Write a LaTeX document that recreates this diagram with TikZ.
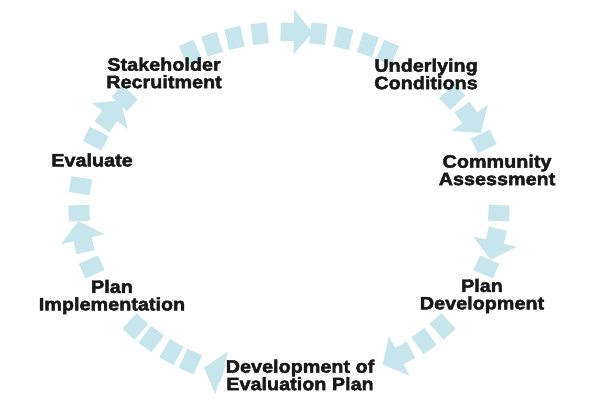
\documentclass[tikz,border=0pt]{standalone}
\usepackage{fontspec}
\newfontfamily\lblfont{Liberation Sans}[FakeStretch=1.1,FakeBold=2.5]
\usepackage{tikz}
\usetikzlibrary{shapes.arrows}
\usepackage{xcolor}
\definecolor{ringblue}{RGB}{198,229,236}
\definecolor{lblblack}{RGB}{25,25,25}

\begin{document}
\begin{tikzpicture}[x=1pt,y=1pt,
  dashbox/.style={rectangle, fill=ringblue, inner sep=0pt, minimum width=16pt, minimum height=21pt},
  ringarrow/.style={single arrow, fill=ringblue, inner xsep=0pt, inner ysep=9pt, single arrow head extend=13pt, single arrow tip angle=100},
  lbl/.style={font=\lblfont\bfseries\fontsize{18}{17.5}\selectfont, text=lblblack, align=center, inner sep=0pt}]
\useasboundingbox (0,0) rectangle (599,410);

% Dashed ring, running clockwise
\begin{scope}[shift={(289,203)}]
\foreach \t [count=\i, evaluate=\t as \dir using {atan2(-175*cos(\t),210*sin(\t))}] in
    {200,182,173,157,141.5,118,111.5,105,98,82,75,68,62,39,22,-2,-20,-43,-50,223,229,236,242}
  \node[dashbox, rotate=\dir] (dash\i) at (\t:210pt and 175pt) {};

% Arrow heads on the ring
\foreach \t/\len [count=\i, evaluate=\t as \dir using {atan2(-175*cos(\t),210*sin(\t))}] in
    {191/32, 149/32, 89/32, 31/32, -11/32, -58/32, 250/20}
  \node[ringarrow, minimum height=\len pt, rotate=\dir] (arrow\i) at (\t:210pt and 175pt) {};
\end{scope}

% Stage labels
\node[lbl] (stake) at (164,337) {Stakeholder\\Recruitment};
\node[lbl] (under) at (426,336) {Underlying\\Conditions};
\node[lbl] (commu) at (497,240) {Community\\Assessment};
\node[lbl] (pldev) at (482,114) {Plan\\Development};
\node[lbl] (evdev) at (300,35) {Development of\\Evaluation Plan};
\node[lbl] (plimp) at (112,113) {Plan\\Implementation};
\node[lbl] (evalu) at (92,250) {Evaluate};

\end{tikzpicture}
\end{document}
